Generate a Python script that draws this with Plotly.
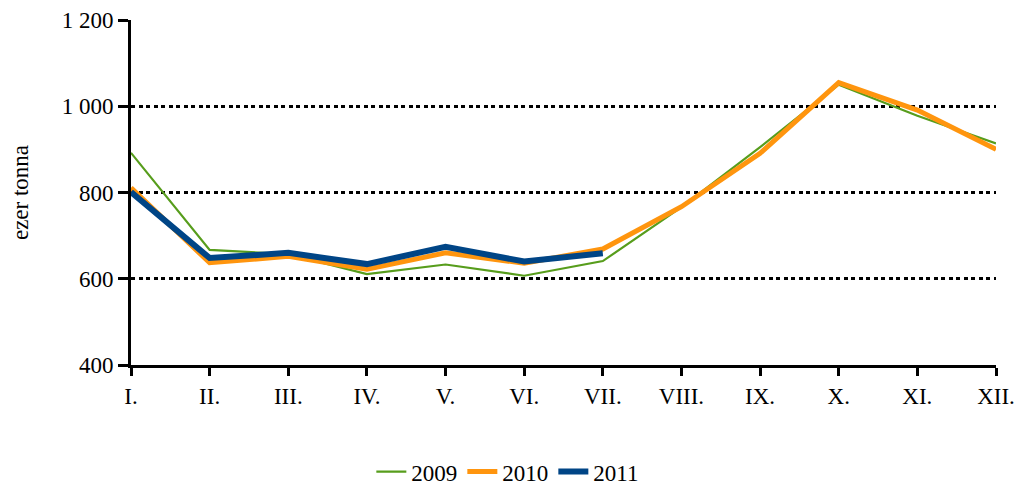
import plotly.graph_objects as go

months = ["I.", "II.", "III.", "IV.", "V.", "VI.", "VII.", "VIII.", "IX.", "X.", "XI.", "XII."]
y2009 = [892, 667, 657, 611, 633, 607, 641, 766, 905, 1050, 978, 914]
y2010 = [811, 637, 652, 622, 660, 636, 669, 767, 891, 1055, 991, 900]
y2011 = [801, 648, 660, 634, 674, 640, 659]
y_ticks = [400, 600, 800, 1000, 1200]
y_tick_labels = ["400", "600", "800", "1 000", "1 200"]

FONT = "Liberation Serif"
FS = 23

fig = go.Figure()
fig.add_trace(go.Scatter(x=months, y=y2009, mode="lines", name="2009",
                         line=dict(color="#579d1c", width=2.2)))
fig.add_trace(go.Scatter(x=months, y=y2010, mode="lines", name="2010",
                         line=dict(color="#ff950e", width=5)))
fig.add_trace(go.Scatter(x=months[:len(y2011)], y=y2011, mode="lines", name="2011",
                         line=dict(color="#004586", width=6)))

fig.update_layout(
    width=1018, height=478,
    margin=dict(l=123, r=30, t=12, b=121),
    paper_bgcolor="white", plot_bgcolor="white",
    font=dict(family=FONT, size=FS, color="#000000"),
    showlegend=True,
    legend=dict(orientation="h", xref="container", yref="container",
                x=0.491, xanchor="center", y=0.03, yanchor="middle",
                font=dict(family=FONT, size=FS), itemwidth=30, tracegroupgap=0),
    xaxis=dict(
        categoryorder="array", categoryarray=months,
        range=[0, 11], automargin=False,
        showline=True, linecolor="black", linewidth=3,
        ticks="outside", ticklen=8, tickwidth=3, tickcolor="black",
        showgrid=False, zeroline=False,
        tickfont=dict(family=FONT, size=FS),
    ),
    yaxis=dict(
        range=[400, 1200], automargin=False,
        tickvals=y_ticks, ticktext=y_tick_labels,
        showline=True, linecolor="black", linewidth=3,
        ticks="outside", ticklen=10, tickwidth=3, tickcolor="black",
        showgrid=True, gridcolor="black", gridwidth=2.5, griddash="4px,3.5px",
        zeroline=False,
        tickfont=dict(family=FONT, size=FS),
        title=dict(text="ezer tonna", font=dict(family=FONT, size=FS), standoff=30),
    ),
)

fig.write_html("out.html")
